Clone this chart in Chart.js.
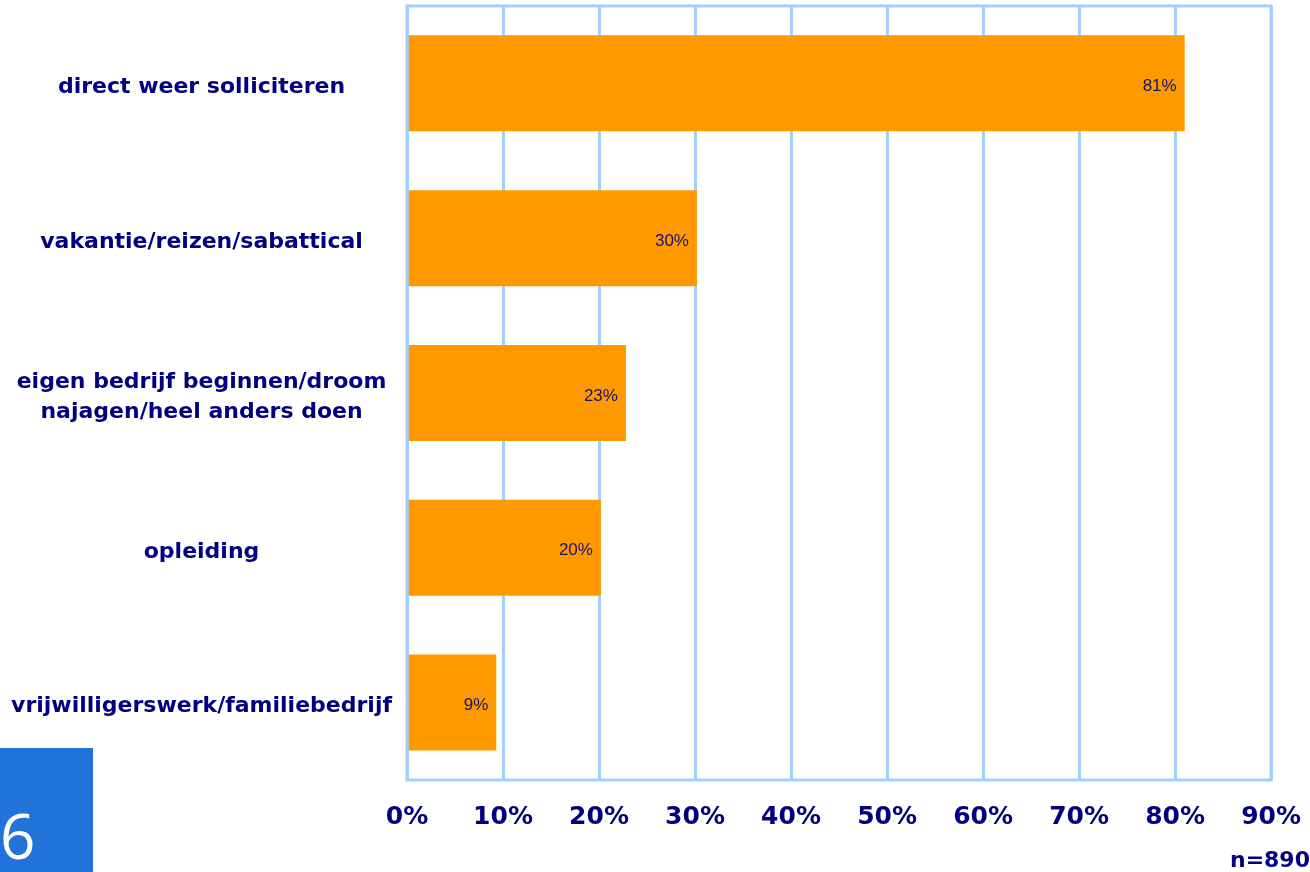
<!DOCTYPE html>
<html>
<head>
<meta charset="utf-8">
<script src="https://cdn.jsdelivr.net/npm/chart.js@4.4.1/dist/chart.umd.min.js"></script>
<style>
  body { margin: 0; background: #fff; }
  #wrap { position: relative; width: 1310px; height: 872px; overflow: hidden; }
  #chart { position: absolute; left: 0; top: -16px; }
  #slideNr { position: absolute; left: 0; top: 748px; width: 93px; height: 124px; background: #2173d9; }
  #slideNr span { position: absolute; left: 0px; top: 56px; color: #fff; font-family: "Open Sans", sans-serif; font-weight: 400; font-size: 62px; line-height: 62px; }
  #nCount { position: absolute; right: 0; top: 847px; color: #000080; font-family: "DejaVu Sans", sans-serif; font-weight: bold; font-size: 22px; line-height: 26px; }
</style>
</head>
<body>
<div id="wrap">
  <canvas id="chart" width="1323" height="888"></canvas>
  <div id="slideNr"><span>6</span></div>
  <div id="nCount">n=890</div>
</div>
<script>
const categories = [
  "direct weer solliciteren",
  "vakantie/reizen/sabattical",
  ["eigen bedrijf beginnen/droom", "najagen/heel anders doen"],
  "opleiding",
  "vrijwilligerswerk/familiebedrijf"
]
const values = [81, 30.2, 22.8, 20.2, 9.3]
const valueLabels = ["81%", "30%", "23%", "20%", "9%"]
const xTicks = [0, 10, 20, 30, 40, 50, 60, 70, 80, 90]

const gridBlue = "#a3cfff"
const navy = "#000080"

// frame round the plot area
const framePlugin = {
  id: "frame",
  afterDraw(chart) {
    const a = chart.chartArea
    const ctx = chart.ctx
    ctx.save()
    ctx.strokeStyle = gridBlue
    ctx.lineWidth = 3
    ctx.strokeRect(a.left, a.top, a.right - a.left, a.bottom - a.top)
    ctx.restore()
  }
}

// value labels inside the bar ends
const valuePlugin = {
  id: "values",
  afterDatasetsDraw(chart) {
    const ctx = chart.ctx
    const meta = chart.getDatasetMeta(0)
    ctx.save()
    ctx.font = "17px 'Liberation Sans', Arial, sans-serif"
    ctx.fillStyle = "#14146e"
    ctx.textAlign = "right"
    ctx.textBaseline = "middle"
    meta.data.forEach((bar, i) => {
      ctx.fillText(valueLabels[i], bar.x - 8, bar.y + 3)
    })
    ctx.restore()
  }
}

new Chart(document.getElementById("chart"), {
  type: "bar",
  data: {
    labels: categories,
    datasets: [{
      data: values,
      backgroundColor: "#ff9900",
      borderWidth: 0,
      barPercentage: 0.62,
      categoryPercentage: 1
    }]
  },
  options: {
    indexAxis: "y",
    responsive: false,
    animation: false,
    layout: { padding: { top: 0, right: 32, left: 0, bottom: 0 } },
    plugins: { legend: { display: false }, tooltip: { enabled: false } },
    scales: {
      x: {
        min: 0,
        max: 90,
        afterBuildTicks: scale => { scale.ticks = xTicks.map(v => ({ value: v })) },
        afterFit: scale => { scale.height = 92 },
        grid: { color: gridBlue, lineWidth: 3, drawTicks: false },
        border: { display: false },
        ticks: {
          padding: 22,
          color: navy,
          font: { family: "'DejaVu Sans', Verdana, sans-serif", weight: "bold", size: 25 },
          callback: v => v + "%"
        }
      },
      y: {
        afterFit: scale => { scale.width = 407 },
        grid: { display: false },
        border: { display: false },
        ticks: {
          padding: 7,
          labelOffset: 4,
          crossAlign: "center",
          color: navy,
          font: { family: "'DejaVu Sans', Verdana, sans-serif", weight: "bold", size: 22, lineHeight: 1.36 }
        }
      }
    }
  },
  plugins: [framePlugin, valuePlugin]
})
</script>
</body>
</html>
